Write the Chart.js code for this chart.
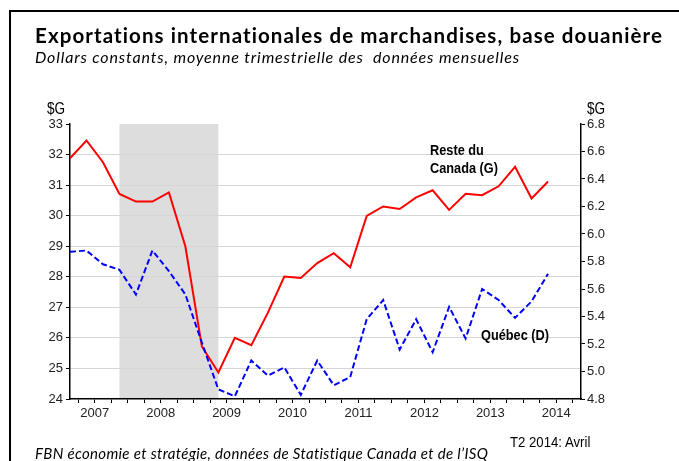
<!DOCTYPE html>
<html><head><meta charset="utf-8">
<script src="https://cdn.jsdelivr.net/npm/chart.js@4.4.1/dist/chart.umd.min.js"></script>
<style>
html,body{margin:0;padding:0;background:#fff;width:679px;height:461px;overflow:hidden;}
#wrap{position:relative;width:679px;height:461px;}
canvas{position:absolute;left:0;top:0;}
.t{position:absolute;white-space:nowrap;color:#000;}
.narrow{font-family:"Liberation Sans",Arial,sans-serif;transform:scaleX(0.85);transform-origin:0 0;}
#frame{position:absolute;left:9px;top:10px;width:700px;height:470px;border-left:2px solid #000;border-top:2px solid #000;}
</style></head><body>
<div id="wrap">
<canvas id="c" width="679" height="461"></canvas>
<div id="frame"></div>
<div class="t" style="left:35px;top:25px;font:bold 20.5px/20px Lato,sans-serif;letter-spacing:1.09px;">Exportations internationales de marchandises, base douanière</div>
<div class="t" style="left:35px;top:49px;font:italic 16px/16px Lato,sans-serif;letter-spacing:0.85px;">Dollars constants, moyenne trimestrielle des&nbsp; données mensuelles</div>
<div class="t narrow" style="left:47px;top:101px;font-size:16px;line-height:16px;">$G</div>
<div class="t narrow" style="left:587px;top:101px;font-size:16px;line-height:16px;">$G</div>
<div class="t narrow" style="left:430px;top:141px;font-size:15px;line-height:18px;font-weight:bold;">Reste du<br>Canada (G)</div>
<div class="t narrow" style="left:481px;top:327px;font-size:15px;line-height:15px;font-weight:bold;">Québec (D)</div>
<div class="t narrow" style="left:510px;top:434px;font-size:15.5px;line-height:15px;">T2 2014: Avril</div>
<div class="t" style="left:35px;top:446px;font:italic 15px/15px Lato,sans-serif;letter-spacing:0.33px;">FBN économie et stratégie, données de Statistique Canada et de l’ISQ</div>
</div>
<script>
// Quarters (T = trimestre)
const quarters = [
  '2007T1','2007T2','2007T3','2007T4','2008T1','2008T2','2008T3','2008T4',
  '2009T1','2009T2','2009T3','2009T4','2010T1','2010T2','2010T3','2010T4',
  '2011T1','2011T2','2011T3','2011T4','2012T1','2012T2','2012T3','2012T4',
  '2013T1','2013T2','2013T3','2013T4','2014T1','2014T2','2014T3','2014T4'
];
const yearLabels = ['2007','2008','2009','2010','2011','2012','2013','2014'];
// Reste du Canada, $G (left axis)
const resteDuCanada = [
  31.88, 32.46, 31.75, 30.71, 30.46, 30.46, 30.76, 28.99,
  25.72, 24.87, 26.00, 25.76, 26.82, 28.01, 27.96, 28.45,
  28.77, 28.31, 29.99, 30.30, 30.22, 30.60, 30.83, 30.19,
  30.72, 30.67, 30.96, 31.60, 30.56, 31.12
];
// Québec, $G (right axis)
const quebec = [
  5.87, 5.88, 5.78, 5.74, 5.56, 5.88, 5.73, 5.56,
  5.21, 4.87, 4.82, 5.08, 4.97, 5.03, 4.83, 5.08,
  4.90, 4.96, 5.38, 5.52, 5.16, 5.38, 5.14, 5.47,
  5.24, 5.60, 5.52, 5.39, 5.51, 5.71
];
// Recession shading (first and last quarter)
const recession = ['2007T4', '2009T2'];

const tickFont = {family: 'Liberation Sans, Arial, sans-serif', size: 13};
const tickColor = '#222';

const recessionPlugin = {
  id: 'recession',
  beforeDraw(chart) {
    const {ctx, chartArea, scales} = chart;
    const x0 = scales.x.getPixelForValue(quarters.indexOf(recession[0]));
    const x1 = scales.x.getPixelForValue(quarters.indexOf(recession[1]));
    ctx.save();
    ctx.fillStyle = '#dddddd';
    ctx.fillRect(x0, chartArea.top, x1 - x0, chartArea.bottom - chartArea.top);
    ctx.restore();
  }
};

new Chart(document.getElementById('c'), {
  type: 'line',
  data: {
    datasets: [
      {
        label: 'Reste du Canada (G)',
        data: resteDuCanada.map((v, i) => ({x: i, y: v})),
        yAxisID: 'y',
        borderColor: '#ff0000',
        borderWidth: 2,
        pointRadius: 0,
        tension: 0,
        order: 2
      },
      {
        label: 'Québec (D)',
        data: quebec.map((v, i) => ({x: i, y: v})),
        yAxisID: 'y1',
        borderColor: '#0000ff',
        borderWidth: 2,
        borderDash: [6, 3],
        pointRadius: 0,
        tension: 0,
        order: 1
      }
    ]
  },
  options: {
    responsive: false,
    animation: false,
    events: [],
    layout: {padding: {left: 10, right: 48, top: 124, bottom: 37}},
    plugins: {legend: {display: false}, tooltip: {enabled: false}},
    scales: {
      x: {
        type: 'linear',
        min: 0,
        max: quarters.length - 1,
        afterBuildTicks: ax => {
          ax.ticks = quarters.slice(0, -1).map((q, i) => ({value: i + 0.5}));
        },
        afterFit: s => { s.height = 25; },
        ticks: {
          autoSkip: false, maxRotation: 0, padding: 3,
          font: tickFont, color: tickColor,
          callback: v => {
            const k = (v - 1.5) / 4;
            return Number.isInteger(k) ? yearLabels[k] : '';
          }
        },
        grid: {drawOnChartArea: false, drawTicks: true, tickLength: 4, tickColor: '#000', tickWidth: 1},
        border: {color: '#000', width: 1.5}
      },
      y: {
        position: 'left',
        min: 24, max: 33,
        afterFit: s => { s.width = 60; },
        ticks: {stepSize: 1, padding: 3, font: tickFont, color: tickColor},
        grid: {
          color: c => (c.tick && (c.tick.value === 24 || c.tick.value === 33)) ? 'rgba(0,0,0,0)' : '#d6d6d6',
          lineWidth: 1, tickColor: '#000', tickLength: 4, drawTicks: true
        },
        border: {color: '#000', width: 1.5}
      },
      y1: {
        position: 'right',
        min: 4.8, max: 6.8,
        afterFit: s => { s.width = 50; },
        ticks: {stepSize: 0.2, padding: 2, font: tickFont, color: tickColor, callback: v => Number(v).toFixed(1)},
        grid: {drawOnChartArea: false, tickColor: '#000', tickLength: 4},
        border: {color: '#000', width: 1.5}
      }
    }
  },
  plugins: [recessionPlugin]
});
</script>
</body></html>
